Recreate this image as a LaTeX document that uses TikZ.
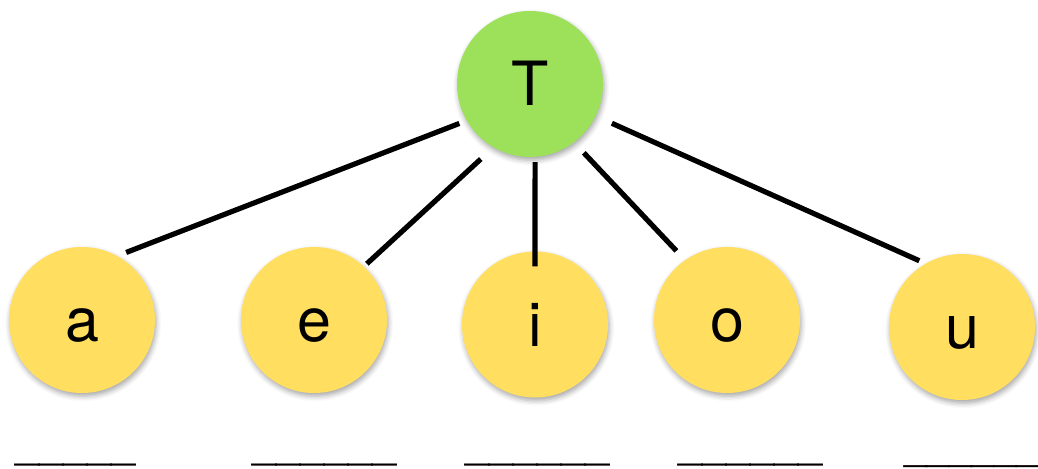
\documentclass[tikz,border=0pt]{standalone}
\usepackage{fontspec}
\setmainfont{TeX Gyre Heros}
\usetikzlibrary{shadows.blur}
\definecolor{vertT}{RGB}{157,225,91}
\definecolor{jaune}{RGB}{255,222,96}
\tikzset{
  lettre/.style={circle, minimum size=73pt, inner sep=0pt, text height=22pt, text depth=0pt,
    font=\fontsize{30.5}{36}\selectfont,
    blur shadow={shadow xshift=0.6pt, shadow yshift=-1.6pt, shadow blur radius=2.5pt, shadow opacity=35}},
  racine/.style={lettre, fill=vertT},
  feuille/.style={lettre, fill=jaune},
  branche/.style={line width=2.6pt},
  blanc/.style={anchor=base west, inner sep=0pt, font=\fontsize{21.6}{26}\selectfont}
}
\begin{document}
\begin{tikzpicture}[x=0.5pt, y=-0.5pt]
\useasboundingbox (0,0) rectangle (1038,469);

% Racine
\node[racine] (T) at (530,84) {T};

% Voyelles
\node[feuille] (a) at (82,320) {a};
\node[feuille] (e) at (314,320) {e};
\node[feuille] (i) at (535,324.5) {i};
\node[feuille] (o) at (727,320) {o};
\node[feuille] (u) at (962,327) {u};

% Branches
\draw[branche, shorten <=3.8pt, shorten >=4.6pt] (T.210) -- (a.61);
\draw[branche, shorten <=8.5pt, shorten >=1.9pt] (T.240) -- (e.47);
\draw[branche, shorten <=2.5pt, shorten >=-7.7pt] (T.274) -- (i.north);
\draw[branche, shorten <=7pt, shorten >=6.2pt] (T.307) -- (o.125);
\draw[branche, shorten <=8.7pt, shorten >=3.3pt] (T.334) -- (u.120);

% Blancs
\node[blanc] (blancA) at (15,459) {\_\_\_\_\_};
\node[blanc] (blancE) at (252,459) {\_\_\_\_\_\_};
\node[blanc] (blancI) at (465,459) {\_\_\_\_\_\_};
\node[blanc] (blancO) at (678,459) {\_\_\_\_\_\_};
\node[blanc, font=\fontsize{20.2}{24}\selectfont] (blancU) at (904,461) {\_\_\_\_\_\_};

\end{tikzpicture}
\end{document}
